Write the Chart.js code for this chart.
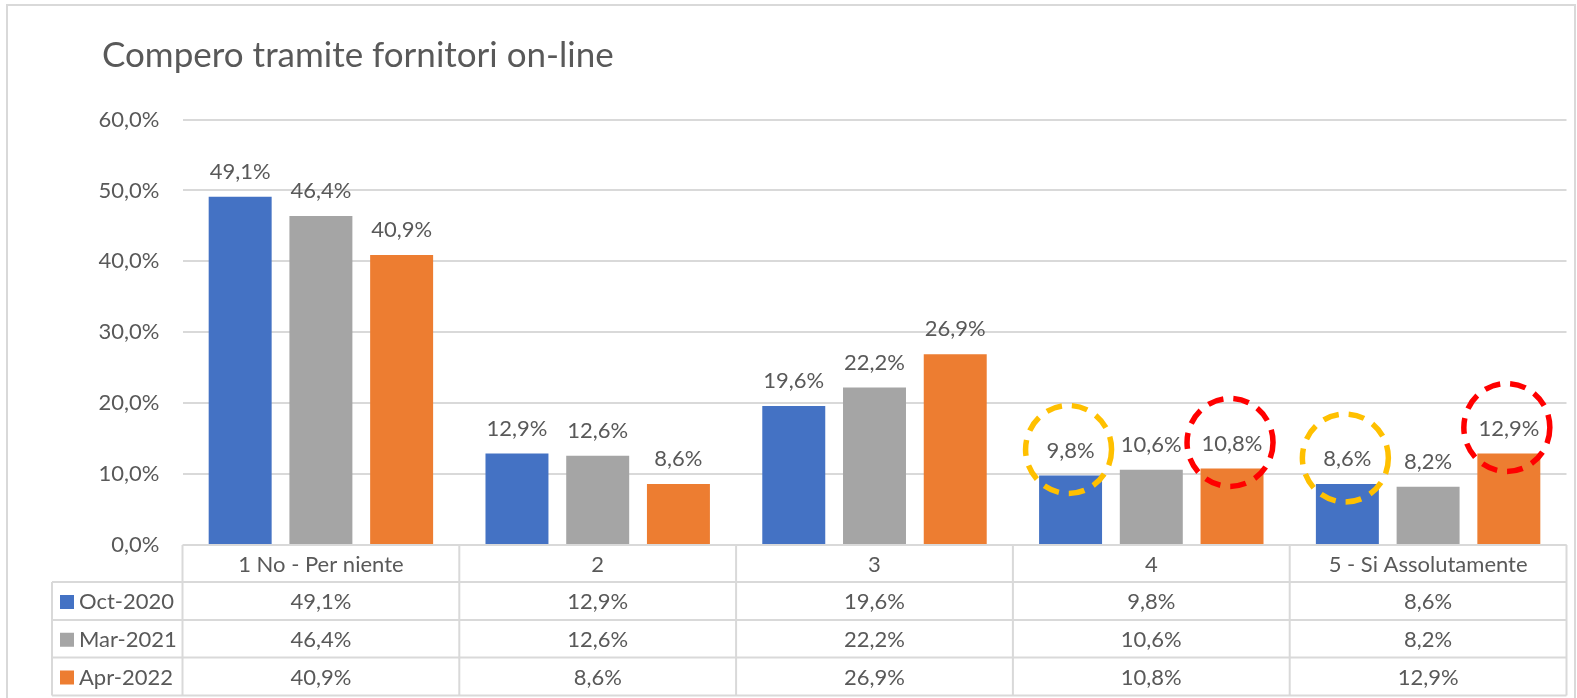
<!DOCTYPE html>
<html>
<head>
<meta charset="utf-8">
<script src="https://cdn.jsdelivr.net/npm/chart.js@4/dist/chart.umd.min.js"></script>
<style>
  html, body { margin: 0; padding: 0; background: #fff; }
  #wrap { width: 1577px; height: 698px; position: relative; }
</style>
</head>
<body>
<div id="wrap"><canvas id="chart"></canvas></div>
<script>
const chartTitle = "Compero tramite fornitori on-line";
const categories = ["1 No - Per niente", "2", "3", "4", "5 - Si Assolutamente"];
const seriesNames = ["Oct-2020", "Mar-2021", "Apr-2022"];
const oct2020 = [49.1, 12.9, 19.6, 9.8, 8.6];
const mar2021 = [46.4, 12.6, 22.2, 10.6, 8.2];
const apr2022 = [40.9, 8.6, 26.9, 10.8, 12.9];
const yTickLabels = ["0,0%", "10,0%", "20,0%", "30,0%", "40,0%", "50,0%", "60,0%"];
// highlighted labels: [series index, category index, colour]
const highlights = [[0, 3, "#FFC000"], [2, 3, "#FF0000"], [0, 4, "#FFC000"], [2, 4, "#FF0000"]];

const colors = ["#4472C4", "#A5A5A5", "#ED7D31"];
const textColor = "#595959";
const lineColor = "#D9D9D9";
const FONT = "Lato, 'Open Sans', sans-serif";
const FS = 22;

function pct(v) {
    return v.toFixed(1).replace(".", ",") + "%";
}

// frame + title
const framePlugin = {
    id: "frame",
    beforeDraw(chart) {
        const ctx = chart.ctx;
        ctx.save();
        ctx.fillStyle = "#fff";
        ctx.fillRect(0, 0, chart.width, chart.height);
        ctx.strokeStyle = lineColor;
        ctx.lineWidth = 2;
        ctx.strokeRect(7, 5, 1568, 700);
        ctx.fillStyle = textColor;
        ctx.font = "35px " + FONT;
        ctx.textBaseline = "alphabetic";
        ctx.textAlign = "left";
        ctx.fillText(chartTitle, 102, 67);
        ctx.restore();
    }
};

// value labels over the bars and the dashed circles
const labelPlugin = {
    id: "barLabels",
    afterDatasetsDraw(chart) {
        const ctx = chart.ctx;
        ctx.save();
        ctx.font = FS + "px " + FONT;
        ctx.fillStyle = textColor;
        ctx.textAlign = "center";
        ctx.textBaseline = "middle";
        chart.data.datasets.forEach((ds, i) => {
            chart.getDatasetMeta(i).data.forEach((bar, j) => {
                ctx.fillText(pct(ds.data[j]), bar.x, bar.y - 25);
            });
        });
        highlights.forEach(([s, c, col]) => {
            const bar = chart.getDatasetMeta(s).data[c];
            ctx.beginPath();
            ctx.strokeStyle = col;
            ctx.lineWidth = 5.5;
            ctx.setLineDash([16, 10]);
            ctx.ellipse(bar.x - 2, bar.y - 26, 43, 44, 0, 0, Math.PI * 2);
            ctx.stroke();
        });
        ctx.restore();
    }
};

// data table under the plot
const tablePlugin = {
    id: "dataTable",
    afterDraw(chart) {
        const ctx = chart.ctx;
        const area = chart.chartArea;
        const xs = chart.scales.x;
        const colW = (area.right - area.left) / categories.length;
        const legendLeft = 52;
        const top = area.bottom;
        const rows = [top, top + 37, top + 75, top + 112.5, top + 150.5];

        ctx.save();
        ctx.strokeStyle = lineColor;
        ctx.lineWidth = 2;
        ctx.beginPath();
        ctx.moveTo(area.left, rows[0]);
        ctx.lineTo(area.right, rows[0]);
        for (let r = 1; r < rows.length; r++) {
            ctx.moveTo(legendLeft, rows[r]);
            ctx.lineTo(area.right, rows[r]);
        }
        for (let k = 0; k <= categories.length; k++) {
            const x = area.left + k * colW;
            ctx.moveTo(x, rows[0]);
            ctx.lineTo(x, rows[4]);
        }
        ctx.moveTo(legendLeft, rows[1]);
        ctx.lineTo(legendLeft, rows[4]);
        ctx.stroke();

        ctx.font = FS + "px " + FONT;
        ctx.fillStyle = textColor;
        ctx.textBaseline = "middle";
        ctx.textAlign = "center";
        categories.forEach((c, j) => {
            ctx.fillText(c, xs.getPixelForValue(j), (rows[0] + rows[1]) / 2 + 1);
        });
        chart.data.datasets.forEach((ds, i) => {
            const cy = (rows[i + 1] + rows[i + 2]) / 2 + 1;
            ctx.textAlign = "center";
            ctx.fillStyle = textColor;
            ds.data.forEach((v, j) => {
                ctx.fillText(pct(v), xs.getPixelForValue(j), cy);
            });
            ctx.fillStyle = ds.backgroundColor;
            ctx.fillRect(60, cy - 7, 14, 14);
            ctx.fillStyle = textColor;
            ctx.textAlign = "left";
            ctx.fillText(ds.label, 79, cy);
        });
        ctx.restore();
    }
};

new Chart(document.getElementById("chart"), {
    type: "bar",
    data: {
        labels: categories,
        datasets: [
            { label: seriesNames[0], data: oct2020, backgroundColor: colors[0] },
            { label: seriesNames[1], data: mar2021, backgroundColor: colors[1] },
            { label: seriesNames[2], data: apr2022, backgroundColor: colors[2] },
        ],
    },
    options: {
        responsive: true,
        maintainAspectRatio: false,
        animation: false,
        categoryPercentage: 0.875,
        barPercentage: 0.78,
        layout: { padding: { left: 52, top: 119.5, right: 10.5, bottom: 153 } },
        plugins: {
            legend: { display: false },
            title: { display: false },
            tooltip: { enabled: false },
        },
        scales: {
            x: { display: false },
            y: {
                min: 0,
                max: 60,
                ticks: {
                    stepSize: 10,
                    padding: 23,
                    color: textColor,
                    font: { family: FONT, size: FS },
                    callback: (v, i) => yTickLabels[i],
                },
                grid: { color: lineColor, lineWidth: 2, drawTicks: false },
                border: { display: false },
                afterFit: (scale) => { scale.width = 130.5; },
            },
        },
    },
    plugins: [framePlugin, labelPlugin, tablePlugin],
});
</script>
</body>
</html>
